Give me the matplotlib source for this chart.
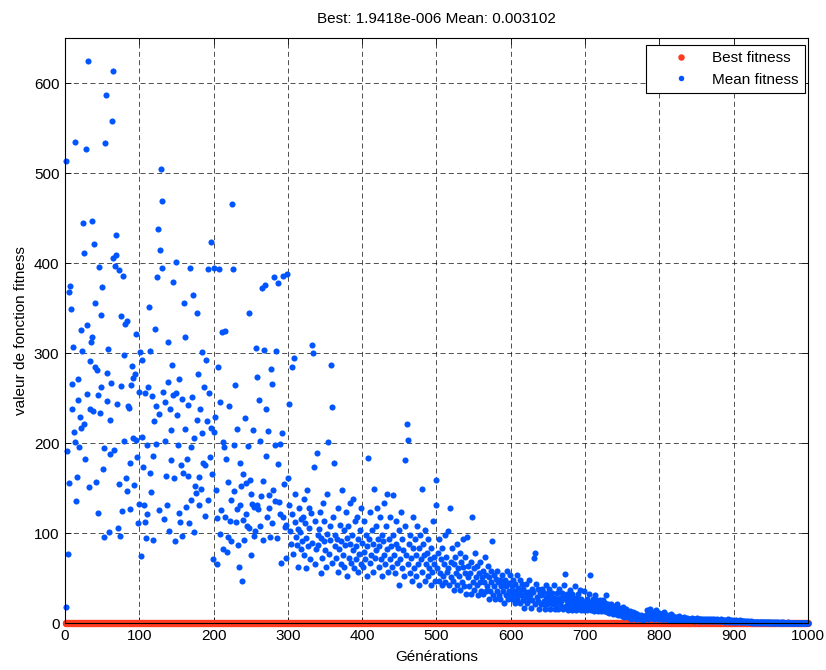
"""Fitness over generations (best and mean), MATLAB-like scatter."""
import matplotlib
matplotlib.use("Agg")
import matplotlib.pyplot as plt

plt.rcParams['font.family'] = ['Liberation Sans', 'DejaVu Sans']

title_text = "Best: 1.9418e-006 Mean: 0.003102"
x_label = "Générations"
y_label = "valeur de fonction fitness"
x_ticks = [0, 100, 200, 300, 400, 500, 600, 700, 800, 900, 1000]
y_ticks = [0, 100, 200, 300, 400, 500, 600]

# mean fitness per generation (1..1000)
mean_fitness = [
    # 1-100
    513, 18, 191, 77, 156, 368, 374, 349, 266, 238, 307, 212, 534, 201, 136, 162, 271, 248, 196, 229,
    326, 217, 302, 444, 221, 411, 182, 527, 254, 331, 624, 151, 238, 291, 312, 318, 447, 236, 421, 284,
    356, 157, 281, 122, 253, 396, 233, 342, 262, 373, 171, 194, 96, 533, 587, 278, 247, 304, 101, 226,
    188, 267, 558, 406, 613, 192, 397, 409, 431, 243, 106, 154, 392, 97, 341, 263, 124, 386, 298, 202,
    332, 161, 147, 336, 241, 239, 178, 127, 264, 286, 272, 206, 153, 277, 203, 321, 184, 111, 257, 132,
    # 101-200
    301, 74, 207, 292, 173, 131, 112, 256, 94, 198, 121, 262, 351, 167, 302, 146, 252, 186, 92, 224,
    327, 241, 199, 384, 438, 126, 232, 414, 504, 469, 394, 257, 116, 202, 246, 163, 131, 268, 312, 102,
    238, 214, 181, 287, 379, 253, 161, 91, 401, 256, 231, 198, 122, 271, 112, 176, 249, 97, 167, 356,
    216, 318, 129, 182, 163, 242, 111, 394, 137, 196, 251, 364, 101, 206, 152, 144, 226, 344, 277, 131,
    162, 238, 149, 211, 301, 178, 262, 119, 176, 292, 224, 137, 393, 256, 184, 423, 217, 166, 71, 394,
    # 201-300
    212, 229, 148, 66, 117, 284, 393, 246, 99, 126, 323, 201, 82, 196, 118, 324, 182, 79, 96, 157,
    241, 113, 137, 91, 466, 393, 198, 147, 264, 112, 127, 216, 87, 62, 131, 178, 152, 47, 166, 114,
    92, 228, 156, 121, 108, 197, 344, 106, 159, 76, 143, 132, 214, 97, 129, 102, 306, 131, 273, 127,
    248, 202, 108, 141, 372, 158, 92, 303, 376, 238, 186, 118, 213, 142, 128, 96, 282, 111, 266, 148,
    384, 198, 136, 302, 94, 177, 378, 134, 121, 199, 67, 211, 118, 386, 154, 107, 109, 72, 388, 161,
    # 301-400
    243, 131, 102, 88, 284, 121, 77, 294, 112, 143, 96, 87, 104, 62, 128, 101, 116, 82, 91, 118,
    138, 76, 111, 94, 61, 148, 86, 106, 128, 71, 122, 309, 89, 300, 173, 113, 66, 82, 189, 98,
    87, 104, 123, 56, 94, 72, 133, 91, 113, 81, 62, 99, 143, 201, 77, 108, 92, 287, 240, 67,
    118, 178, 86, 98, 72, 93, 57, 128, 82, 109, 91, 66, 148, 76, 103, 62, 87, 123, 94, 52,
    108, 72, 88, 133, 67, 98, 81, 138, 61, 113, 86, 71, 118, 57, 93, 77, 103, 66, 128, 89,
    # 401-500
    62, 79, 113, 71, 98, 52, 86, 183, 93, 67, 123, 76, 103, 57, 88, 149, 72, 108, 81, 128,
    93, 62, 86, 118, 71, 98, 52, 91, 133, 76, 66, 108, 82, 143, 57, 93, 71, 118, 86, 62,
    98, 142, 76, 56, 88, 113, 67, 83, 42, 103, 71, 123, 61, 93, 81, 52, 108, 181, 76, 221,
    66, 203, 88, 56, 98, 72, 47, 83, 118, 61, 93, 76, 52, 108, 66, 83, 42, 98, 71, 149,
    57, 88, 76, 47, 103, 66, 78, 52, 93, 61, 71, 42, 83, 57, 113, 66, 73, 47, 131, 159,
    # 501-600
    61, 78, 47, 93, 56, 71, 42, 83, 52, 66, 98, 46, 73, 57, 102, 61, 42, 128, 68, 51,
    83, 47, 66, 37, 73, 56, 88, 42, 61, 52, 78, 37, 68, 46, 62, 93, 41, 56, 73, 32,
    96, 51, 63, 41, 56, 32, 68, 118, 46, 61, 37, 78, 51, 42, 63, 31, 56, 46, 68, 36,
    51, 58, 32, 46, 73, 36, 53, 41, 63, 27, 51, 36, 58, 46, 91, 31, 53, 41, 27, 49,
    36, 58, 46, 31, 48, 27, 41, 53, 36, 44, 22, 48, 31, 41, 58, 27, 44, 36, 53, 31,
    # 601-700
    41, 27, 48, 36, 22, 43, 31, 53, 27, 39, 34, 22, 48, 31, 43, 26, 38, 17, 34, 29,
    43, 22, 34, 26, 48, 31, 17, 38, 26, 34, 72, 78, 21, 43, 29, 24, 38, 16, 33, 21,
    31, 38, 21, 34, 24, 16, 42, 29, 21, 33, 24, 38, 16, 29, 21, 33, 24, 42, 16, 28,
    21, 33, 24, 16, 38, 28, 19, 24, 33, 16, 42, 28, 54, 19, 24, 32, 15, 28, 19, 37,
    23, 14, 32, 19, 28, 23, 41, 14, 28, 19, 32, 23, 37, 14, 27, 18, 23, 36, 14, 23,
    # 701-800
    19, 27, 14, 23, 32, 18, 53, 14, 23, 27, 18, 13, 31, 22, 18, 26, 13, 22, 17, 26,
    13, 22, 17, 26, 13, 17, 22, 31, 12, 17, 21, 11, 17, 12, 21, 16, 10, 17, 12, 19,
    10, 15, 21, 9, 12, 17, 10, 15, 8, 12, 18, 10, 7, 12, 16, 8, 11, 7, 10, 13,
    8, 5, 10, 12, 6, 8, 11, 5, 7, 10, 6, 8, 4, 6, 9, 5, 7, 3.5, 6, 8,
    6, 9, 14, 7, 5, 11, 8, 16, 6, 10, 7, 12, 5, 9, 14, 6, 10, 7, 5, 11,
    # 801-900
    6, 10, 4, 7, 5, 12, 8, 4, 6, 9, 5, 7, 3, 6, 10, 4, 5, 8, 3, 6,
    5, 4, 7, 3, 6, 5, 8, 4, 3, 6, 5, 4, 7, 3, 5, 4, 6, 3, 5, 4,
    3, 5, 4, 6, 3, 4, 2, 5, 3, 4, 6, 3, 2, 4, 5, 3, 4, 2, 3, 5,
    3, 2, 4, 3, 5, 2, 3, 4, 2, 3, 4, 2, 3, 5, 2, 3, 2, 4, 3, 2,
    3, 2, 4, 2, 3, 2, 3, 1, 2, 3, 2, 4, 2, 1, 3, 2, 2, 3, 1, 2,
    # 901-1000
    2, 1, 3, 2, 1, 2, 2, 1, 3, 1, 2, 1, 2, 2, 1, 1, 2, 1, 2, 1,
    1.5, 1, 2, 1, 0.5, 1, 1.5, 1, 0.5, 1, 1, 1.5, 0.5, 1, 1, 0.5, 1.5, 1, 0.5, 1,
    1, 0.5, 1, 1, 0.5, 1, 0.5, 1, 1, 0.5, 0.5, 1, 0.5, 1, 0.5, 0.5, 1, 0.5, 0.5, 1,
    0.5, 0.5, 1, 0.5, 0.5, 0.5, 1, 0.5, 0.5, 0.5, 0.5, 0.5, 1, 0.5, 0.5, 0.5, 0.5, 0.5, 0.5, 0.5,
    0.5, 0.5, 0.5, 0.5, 0.5, 0.5, 0.5, 0.5, 0.5, 0.5, 0.5, 0.5, 0.5, 0.5, 0.5, 0.5, 0.5, 0.5, 0.5, 0.5,
]
generations = list(range(1, len(mean_fitness) + 1))
# best fitness stays at ~0 (1.9e-6) for every generation
best_fitness = [0.0] * len(generations)

fig = plt.figure(figsize=(8.26, 6.70), dpi=100)
ax = fig.add_axes([0.0787, 0.0701, 0.8995, 0.8731])

ax.plot(generations, best_fitness, 'o', color='#ff3a1f', markersize=5.2,
        markeredgewidth=0, label='Best fitness', clip_on=False, zorder=3)
ax.plot(generations, mean_fitness, 'o', color='#0055ff', markersize=4.4,
        markeredgewidth=0, label='Mean fitness', clip_on=False, zorder=4)

ax.set_xlim(0, 1000)
ax.set_ylim(0, 650)
ax.set_xticks(x_ticks)
ax.set_yticks(y_ticks)
ax.tick_params(direction='in', top=True, right=True, labelsize=11, length=4, width=0.6, pad=4)
ax.grid(True, color='k', linestyle=(0, (6, 4)), linewidth=0.6, alpha=0.8)
ax.set_axisbelow(True)
for s in ax.spines.values():
    s.set_linewidth(0.8)
    s.set_zorder(5)

ax.set_title(title_text, fontsize=11, pad=11)
ax.set_xlabel(x_label, fontsize=11, labelpad=5)
ax.set_ylabel(y_label, fontsize=11, labelpad=4)

leg = ax.legend(loc='upper right', bbox_to_anchor=(805 / 826, 1 - 45 / 670),
                bbox_transform=fig.transFigure, borderaxespad=0,
                fontsize=11, fancybox=False, framealpha=1, edgecolor='k',
                handlelength=3.8, handletextpad=0.15, labelspacing=0.5,
                borderpad=0.4, markerscale=0.9)
leg.get_frame().set_linewidth(0.8)
leg.set_zorder(6)

fig.savefig('out.png', dpi=100)
